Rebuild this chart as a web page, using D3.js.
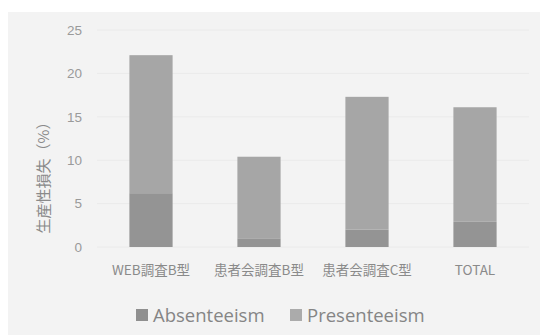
<!DOCTYPE html>
<html>
<head>
<meta charset="utf-8">
<script src="https://cdn.jsdelivr.net/npm/d3@7"></script>
<style>
  body { margin: 0; background: #fff; }
  svg { display: block; }
</style>
</head>
<body>
<svg id="chart"></svg>
<script>
// data
const categories = ["WEB調査B型", "患者会調査B型", "患者会調査C型", "TOTAL"];
const absenteeism = [6.2, 1.0, 2.0, 2.9];
const presenteeism = [15.9, 9.4, 15.3, 13.2];
const yTicks = [0, 5, 10, 15, 20, 25];
const seriesNames = ["Absenteeism", "Presenteeism"];
const seriesColors = ["#949494", "#a6a6a6"];
const legendColors = ["#8f8f8f", "#ababab"];

const width = 540, height = 335;
const svg = d3.select("#chart").attr("width", width).attr("height", height);

// panel background
svg.append("rect")
    .attr("x", 8).attr("y", 12)
    .attr("width", width - 8).attr("height", height - 12)
    .attr("fill", "#f3f3f3");

const x = d3.scaleBand()
    .domain(categories)
    .range([97, 529])
    .paddingInner(0.6)
    .paddingOuter(0.3);

const y = d3.scaleLinear()
    .domain([0, 25])
    .range([247, 30]);

// gridlines
svg.append("g")
    .selectAll("line")
    .data(yTicks)
    .join("line")
    .attr("x1", 97).attr("x2", 529)
    .attr("y1", d => y(d)).attr("y2", d => y(d))
    .attr("stroke", "#eaeaea")
    .attr("stroke-width", 1);

// stacked bars
const rows = categories.map((c, i) => ({cat: c, Absenteeism: absenteeism[i], Presenteeism: presenteeism[i]}));
const stacked = d3.stack().keys(seriesNames)(rows);

svg.append("g")
    .selectAll("g")
    .data(stacked)
    .join("g")
    .attr("fill", (d, i) => seriesColors[i])
    .selectAll("rect")
    .data(d => d)
    .join("rect")
    .attr("x", d => x(d.data.cat))
    .attr("width", x.bandwidth())
    .attr("y", d => y(d[1]))
    .attr("height", d => y(d[0]) - y(d[1]));

// y axis labels
const yAxis = d3.axisLeft(y).tickValues(yTicks).tickSize(0).tickPadding(0);
svg.append("g")
    .attr("transform", "translate(82,0)")
    .call(yAxis)
    .call(g => g.select(".domain").remove())
    .selectAll("text")
    .attr("fill", "#9a9a9a")
    .attr("font-family", "Liberation Sans, Arial, sans-serif")
    .attr("font-size", 13.5);

// x axis labels
const xAxis = d3.axisBottom(x).tickSize(0).tickPadding(0);
svg.append("g")
    .attr("transform", "translate(0,265)")
    .call(xAxis)
    .call(g => g.select(".domain").remove())
    .selectAll("text")
    .attr("fill", "#8a8a8a")
    .attr("font-family", "Noto Sans CJK JP, sans-serif")
    .attr("font-size", 13.5);

// y axis title
svg.append("text")
    .attr("transform", "translate(42,174) rotate(-90)")
    .attr("text-anchor", "middle")
    .attr("dominant-baseline", "central")
    .attr("fill", "#8a8a8a")
    .attr("font-family", "Noto Sans CJK JP, sans-serif")
    .attr("font-size", 15)
    .text("生産性損失（%）");

// legend
const legendX = [136, 290];
const legend = svg.append("g");
seriesNames.forEach((name, i) => {
    legend.append("rect")
        .attr("x", legendX[i]).attr("y", 309)
        .attr("width", 12).attr("height", 12)
        .attr("fill", legendColors[i]);
    legend.append("text")
        .attr("x", legendX[i] + 17).attr("y", 322)
        .attr("fill", "#858585")
        .attr("font-family", "Open Sans, sans-serif")
        .attr("font-size", 18.5)
        .text(name);
});
</script>
</body>
</html>
